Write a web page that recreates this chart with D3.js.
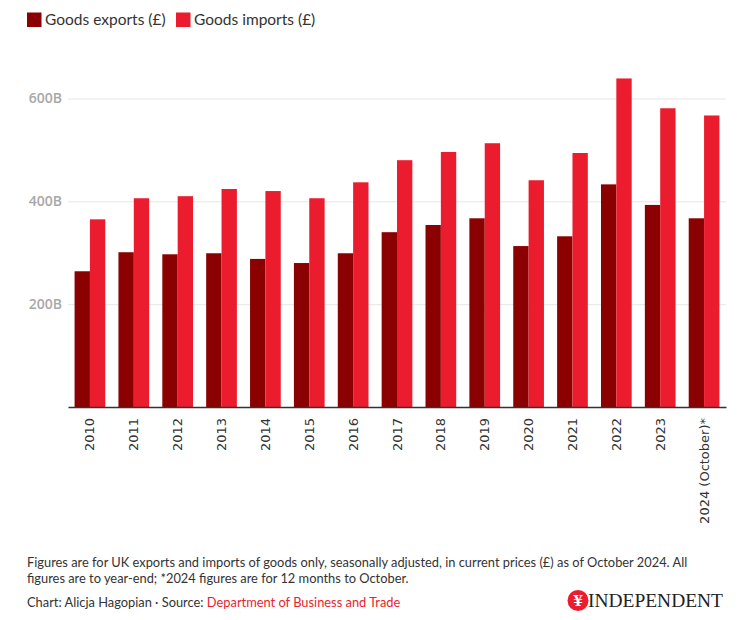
<!DOCTYPE html>
<html><head><meta charset="utf-8">
<script src="https://cdn.jsdelivr.net/npm/d3@7"></script>
<style>
body{margin:0;background:#fff;}
svg{display:block;}
</style></head>
<body>
<svg id="chart" width="744" height="620"></svg>
<script>
const categories = ["2010","2011","2012","2013","2014","2015","2016","2017","2018","2019","2020","2021","2022","2023","2024 (October)*"];
const exportsVals = [264,301,297,299,288,280,299,340,354,367,313,332,433,393,367];
const importsVals = [365,406,410,424,420,406,437,480,496,513,441,494,639,581,567];
const seriesNames = ["Goods exports (£)","Goods imports (£)"];
const yTicks = [200,400,600];
const colors = ["#8b0000","#ec1c2f"];

const svg = d3.select("#chart");
const mLeft = 68, mRight = 726, mTop = 98.5, mBottom = 407;

const x = d3.scaleBand().domain(categories).range([mLeft, mRight]).paddingInner(0.3).paddingOuter(0.15);
const xs = d3.scaleBand().domain([0,1]).range([0, x.bandwidth()]);
const y = d3.scaleLinear().domain([0,600]).range([mBottom, mTop]);

// legend
const lg = svg.append("g");
const legX = [27, 176];
seriesNames.forEach((n,i)=>{
  lg.append("rect").attr("x",legX[i]).attr("y",12.5).attr("width",14.5).attr("height",14.5).attr("fill",colors[i]);
  lg.append("text").attr("x",legX[i]+18).attr("y",25).attr("font-family","Lato, sans-serif").attr("font-size",15.5).attr("fill","#333").text(n);
});

// gridlines + y labels
const ya = svg.append("g").attr("transform",`translate(${mLeft},0)`)
  .call(d3.axisLeft(y).tickValues(yTicks).tickSize(-(mRight-mLeft)).tickFormat(d=>d+"B"));
ya.select(".domain").remove();
ya.selectAll(".tick line").attr("stroke","#e6e6e6").attr("stroke-width",1);
ya.selectAll(".tick text").attr("x",-6).attr("fill","#a8a8a8").attr("font-family","Open Sans, sans-serif").attr("font-weight",600).attr("font-size",14);

// bars
const data = categories.map((c,i)=>({c, v:[exportsVals[i], importsVals[i]]}));
const g = svg.append("g");
data.forEach(d=>{
  d.v.forEach((v,j)=>{
    g.append("rect").attr("x",x(d.c)+xs(j)).attr("width",xs.bandwidth()).attr("y",y(v)).attr("height",y(0)-y(v)).attr("fill",colors[j]);
  });
});

// x axis
const xa = svg.append("g").attr("transform",`translate(0,${mBottom})`).call(d3.axisBottom(x).tickSize(0));
xa.select(".domain").attr("stroke","#333").attr("stroke-width",1.5);
xa.selectAll(".tick text").attr("transform","rotate(-90)").attr("text-anchor","end")
  .attr("x",-11).attr("y",0).attr("dy","0.35em").attr("fill","#333")
  .attr("font-family","DejaVu Sans, sans-serif").attr("font-size",13);

// footer
const ft = svg.append("g").attr("font-family","Lato, sans-serif").attr("font-size",12.85).attr("fill","#333");
ft.append("text").attr("x",27).attr("y",567).text("Figures are for UK exports and imports of goods only, seasonally adjusted, in current prices (£) as of October 2024. All");
ft.append("text").attr("x",27).attr("y",583).text("figures are to year-end; *2024 figures are for 12 months to October.");
const src = ft.append("text").attr("x",27).attr("y",607);
src.append("tspan").text("Chart: Alicja Hagopian \u00b7 Source: ");
src.append("tspan").attr("fill","#ec1c2f").text("Department of Business and Trade");

// logo
const logo = svg.append("g");
logo.append("circle").attr("cx",578).attr("cy",600.5).attr("r",10.5).attr("fill","#ec1c2f");
logo.append("text").attr("x",578).attr("y",606).attr("text-anchor","middle").attr("font-family","DejaVu Serif, serif").attr("font-weight","bold").attr("font-size",14).attr("fill","#fff").text("¥");
logo.append("text").attr("x",588).attr("y",607).attr("font-family","Liberation Serif, serif").attr("font-size",19).attr("fill","#222")
  .attr("textLength",135).attr("lengthAdjust","spacingAndGlyphs").text("INDEPENDENT");
</script>
</body></html>
